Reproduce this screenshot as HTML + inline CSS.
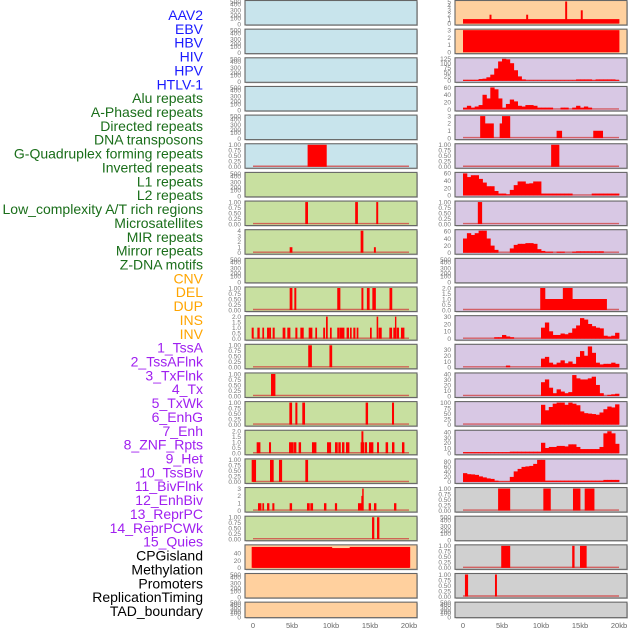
<!DOCTYPE html>
<html><head><meta charset="utf-8"><style>
html,body{margin:0;padding:0;background:#fff;}
svg{display:block;font-family:"Liberation Sans",sans-serif;}
</style></head><body>
<svg id="chart" width="630" height="630" viewBox="0 0 630 630" xmlns="http://www.w3.org/2000/svg"></svg>
<script>
// ---- track labels ----
const labels = ["AAV2","EBV","HBV","HIV","HPV","HTLV-1","Alu repeats","A-Phased repeats","Directed repeats","DNA transposons","G-Quadruplex forming repeats","Inverted repeats","L1 repeats","L2 repeats","Low_complexity A/T rich regions","Microsatellites","MIR repeats","Mirror repeats","Z-DNA motifs","CNV","DEL","DUP","INS","INV","1_TssA","2_TssAFlnk","3_TxFlnk","4_Tx","5_TxWk","6_EnhG","7_Enh","8_ZNF_Rpts","9_Het","10_TssBiv","11_BivFlnk","12_EnhBiv","13_ReprPC","14_ReprPCWk","15_Quies","CPGisland","Methylation","Promoters","ReplicationTiming","TAD_boundary"];
const labelColors = ["#1a1aff","#1a1aff","#1a1aff","#1a1aff","#1a1aff","#1a1aff","#1a6e1a","#1a6e1a","#1a6e1a","#1a6e1a","#1a6e1a","#1a6e1a","#1a6e1a","#1a6e1a","#1a6e1a","#1a6e1a","#1a6e1a","#1a6e1a","#1a6e1a","#ffa500","#ffa500","#ffa500","#ffa500","#ffa500","#a020f0","#a020f0","#a020f0","#a020f0","#a020f0","#a020f0","#a020f0","#a020f0","#a020f0","#a020f0","#a020f0","#a020f0","#a020f0","#a020f0","#a020f0","#000","#000","#000","#000","#000"];
const xTickValues = [0,5,10,15,20];
const xTickLabels = ["0","5kb","10kb","15kb","20kb"];
// ---- panel data: per row, left & right ----
const leftBg = ["blue","blue","blue","blue","blue","blue","green","green","green","green","green","green","green","green","green","green","green","green","green","peach","peach","peach"];
const rightBg = ["peach","peach","purple","purple","purple","purple","purple","purple","purple","purple","purple","purple","purple","purple","purple","purple","purple","grey","grey","grey","grey","grey"];
const leftYmax = [0,0,0,0,0,1,0,1,4,0,1,2,1,1,1,2,1,3,1,60,0,0];
const rightYmax = [5,3,125,60,3,1,60,1,62,0,2,30,38,40,100,42,88,1,0,1,1,0];
const Q = ["0.00","0.25","0.50","0.75","1.00"];
const H = ["0.0","0.5","1.0","1.5","2.0"];
const leftTicks = [null,null,null,null,null,Q,null,Q,["0","1","2","3","4"],null,Q,H,Q,Q,Q,H,Q,["0","1","2","3"],Q,["0","20","40"],null,null];
const rightTicks = [["0","1","2","3","4","5"],["0","1","2","3"],["0","25","50","75","100","125"],["0","20","40","60"],["0","1","2","3"],Q,["0","20","40","60"],Q,["0","20","40","60"],null,H,["0","10","20","30"],["0","10","20","30"],["0","10","20","30","40"],["0","25","50","75","100"],["0","10","20","30","40"],["0","20","40","60","80"],Q,null,Q,Q,null];
// segments [startKb, endKb, value]
const leftSegs = [[],[],[],[],[],
 [[7.0,9.4,1]],
 [],
 [[6.7,7.0,1],[13.1,13.4,1],[15.8,16.0,1]],
 [[4.7,5.0,1],[13.8,14.1,4],[15.5,15.7,1]],
 [],
 [[4.7,5.0,1],[5.3,5.5,1],[10.8,11.15,1],[13.9,14.1,1],[14.6,14.9,1],[15.3,15.7,1],[17.5,17.8,1]],
 [[-0.17,0.04,1],[0.56,0.81,1],[1.2,1.37,1],[1.8,2.05,1],[2.09,2.26,1],[2.52,2.73,1],[3.8,4.1,1],[4.4,4.74,1],[5.43,5.64,1],[6.07,6.45,1],[7.14,7.56,1],[7.99,8.16,1],[9.0,9.19,1],[9.36,9.53,2],[9.87,10.04,1],[10.8,11.0,1],[11.07,11.67,1],[12.0,12.26,1],[12.44,12.6,1],[12.86,13.08,1],[13.29,13.46,1],[15.0,15.17,1],[15.85,16.0,2],[16.1,16.45,1],[17.48,17.78,1],[17.99,18.2,1],[18.2,18.33,2],[18.42,18.67,1],[18.97,19.36,1]],
 [[7.08,7.5,1],[9.8,10.1,1]],
 [[2.31,2.82,1]],
 [[4.66,4.96,1],[5.43,5.64,1],[6.32,6.62,1],[14.44,14.7,1],[17.82,18.03,1]],
 [[0.47,0.9,1],[2.05,2.26,1],[4.62,5.17,1],[5.26,5.51,1],[5.85,6.11,1],[7.56,8.08,1],[9.49,9.96,1],[10.51,10.81,1],[10.94,11.2,1],[11.41,11.67,1],[11.92,12.31,1],[13.8,13.9,1],[13.9,14.1,2],[14.1,14.23,1],[14.36,14.57,1],[14.87,15.38,1],[15.9,16.1,1],[17.0,17.27,1],[17.82,18.08,1],[19.1,19.36,1]],
 [[-0.17,0.34,1],[2.18,2.6,1],[3.33,3.68,1],[6.71,7.01,1]],
 [[0.64,1.03,1],[1.2,1.37,1],[1.8,2.05,1],[2.48,2.69,1],[4.7,4.96,1],[6.92,7.22,1],[7.35,7.65,1],[9.1,9.36,1],[10.5,10.73,1],[13.46,13.89,1],[13.89,14.0,2],[14.0,14.14,3],[14.83,15.08,1],[15.51,15.77,1],[18.08,18.33,1]],
 [[15.26,15.5,1],[15.9,16.15,1]],
 [[-0.17,10.1,57],[10.1,12.4,54],[12.4,20.1,57]],
 [],[]];
// binned profiles (0.5 kb bins, 0..20kb)
const binHIV = [5,5,5,5,10,12,20,35,70,110,125,122,100,60,25,8,3,3,3,3,3,3,3,3,3,3,3,3,3,8,8,8,8,3,8,8,8,8,8,5];
const binAlu = [5,10,5,8,12,40,30,60,55,30,5,15,27,22,10,8,12,12,10,5,5,5,5,0,0,5,5,0,5,10,5,8,5,0,0,0,0,0,0,0];
const binInverted = [60,50,55,55,45,35,25,25,12,5,5,3,15,28,38,38,32,33,38,38,5,5,5,5,5,5,5,5,0,0,0,0,0,5,5,5,5,5,5,5];
const binMIR = [40,55,50,55,62,62,40,20,8,0,0,0,12,22,25,25,27,27,25,10,5,3,3,0,3,3,0,0,3,4,4,4,4,4,4,4,0,0,0,0];
const binINS = [0,0,0,0,0,0,0,0,2,2,5,3,2,0,0,0,0,0,0,0,15,22,10,5,5,7,6,8,14,18,28,26,20,17,15,14,4,3,4,8];
const binINV = [0,0,0,0,0,0,0,0,0,0,0,3,0,0,0,0,0,0,0,0,15,18,8,5,8,12,7,10,6,18,28,20,36,25,8,5,6,6,8,6];
const binTssA = [0,0,0,0,0,0,0,0,0,0,0,0,0,0,0,0,0,0,0,0,25,30,15,5,12,8,5,7,38,32,30,30,32,35,20,5,0,2,3,4];
const binTssAFlnk = [0,0,0,0,0,0,0,0,0,0,0,0,0,0,0,0,0,0,0,0,90,65,80,95,100,100,90,100,95,88,60,52,50,48,45,55,70,82,78,92];
const binTxFlnk = [2,2,2,2,2,2,2,2,2,2,2,2,3,3,3,3,3,3,3,3,20,10,12,12,14,14,13,17,17,12,8,8,8,8,8,12,38,42,38,18];
const binTx = [35,31,30,28,22,18,14,12,5,2,2,2,20,42,52,60,62,64,72,88,88,5,5,5,5,5,5,5,5,5,5,5,5,5,5,5,8,8,8,8];
function bins(arr){ const out=[]; arr.forEach((v,j)=>{ if(v>0) out.push([j*0.5,(j+1)*0.5,v]); }); return out; }
const rightSegs = [
 [[0,20,1],[3.4,3.6,2],[8.1,8.3,2],[13.1,13.3,5],[15.1,15.3,3]],
 [[0,20,3]],
 bins(binHIV), bins(binAlu),
 [[2.2,2.8,3],[2.8,3.9,2],[4.7,5.0,2],[5.0,6.0,3],[12.0,12.65,1],[16.7,17.9,1]],
 [[11.3,12.3,1]],
 bins(binInverted),
 [[1.9,2.4,1]],
 bins(binMIR),
 [],
 [[9.9,10.5,2],[10.5,12.8,1],[12.8,14.0,2],[14.0,18.4,1]],
 bins(binINS), bins(binINV), bins(binTssA), bins(binTssAFlnk), bins(binTxFlnk), bins(binTx),
 [[4.5,6.0,1],[10.3,11.2,1],[14.1,15.0,1],[15.6,16.8,1]],
 [],
 [[4.9,6.0,1],[14.0,14.25,1],[15.0,15.8,1]],
 [[0.25,0.6,1],[4.1,4.3,1]],
 []];
const bgColors = {blue:"#c8e4ec",green:"#c8e0a0",peach:"#ffd09e",purple:"#d8c8e4",grey:"#d0d0d0"};
const emptyTicks = ["0","100","200","300","400","500"];
const emptyFrac = [0.97,0.72,0.6,0.4,0.16,0.05];

const svg = document.getElementById('chart');
const NS = "http://www.w3.org/2000/svg";
function mk(tag, attrs, parent){ const e=document.createElementNS(NS,tag); for(const k in attrs) e.setAttribute(k,attrs[k]); (parent||svg).appendChild(e); return e; }

labels.forEach((t,i)=>{
  const e = mk('text',{x:203,y:20+i*13.86,'text-anchor':'end','font-size':14,fill:labelColors[i]});
  e.textContent = t;
  
  
});

const colX = [245,455];
const PW = 172;
const x0s = [253,463];
const PXKB = 7.8;
function rowTop(i){ return 0.5 + i*28.65; }
function rowH(i){ return i===21 ? 15.5 : 24.5; }

function drawPanel(col, i, bg, ymax, ticks, segs){
  const g = mk('g',{});
  
  
  const left = colX[col], top=rowTop(i), h=rowH(i);
  mk('rect',{x:left+1,y:top+1,width:PW,height:h,fill:'#999',opacity:0.5},g);
  mk('rect',{x:left,y:top,width:PW,height:h,fill:bgColors[bg],stroke:'#666','stroke-width':1.1},g);
  const xs = kb => x0s[col] + kb*PXKB;
  const base = top + h - 1.5;
  const ys = v => base - v/ymax*(h-2.5);
  const tx = left - 4;
  if(!ticks){
    emptyTicks.forEach((t,k)=>{
      const e = mk('text',{x:tx,y:top+emptyFrac[k]*h+2.3,'text-anchor':'end','font-size':6.5,fill:'#777'},g);
      e.textContent=t;
    });
    return;
  }
  mk('line',{x1:xs(0),x2:xs(20),y1:base-0.5,y2:base-0.5,stroke:'#d23c3c','stroke-width':1.4,opacity:0.75},g);
  segs.forEach(s=>{
    const r = mk('rect',{x:xs(s[0]),y:ys(s[2]),width:Math.max(0.8,xs(s[1])-xs(s[0])+0.4),height:base-ys(s[2]),fill:'#ff0000'},g);
    
    
  });
  const n = ticks.length;
  const step = ymax===62?20:(ymax===38?10:(ymax===42?10:(ymax===88?20:(ymax===100?25:(parseFloat(ticks[n-1])/(n-1))))));
  ticks.forEach((t,k)=>{
    const v = k*step;
    const e = mk('text',{x:tx,y:ys(v)+2.3,'text-anchor':'end','font-size':6.5,fill:'#777'},g);
    e.textContent=t;
  });
}
for(let i=0;i<22;i++){
  drawPanel(0,i,leftBg[i],leftYmax[i],leftTicks[i],leftSegs[i]);
  drawPanel(1,i,rightBg[i],rightYmax[i],rightTicks[i],rightSegs[i]);
}
[0,1].forEach(col=>{
  xTickValues.forEach((v,k)=>{
    const e = mk('text',{x:x0s[col]+v*PXKB,y:628,'text-anchor':'middle','font-size':7.5,fill:'#666'});
    e.textContent = xTickLabels[k];
    
    
  });
});
</script>
</body></html>
